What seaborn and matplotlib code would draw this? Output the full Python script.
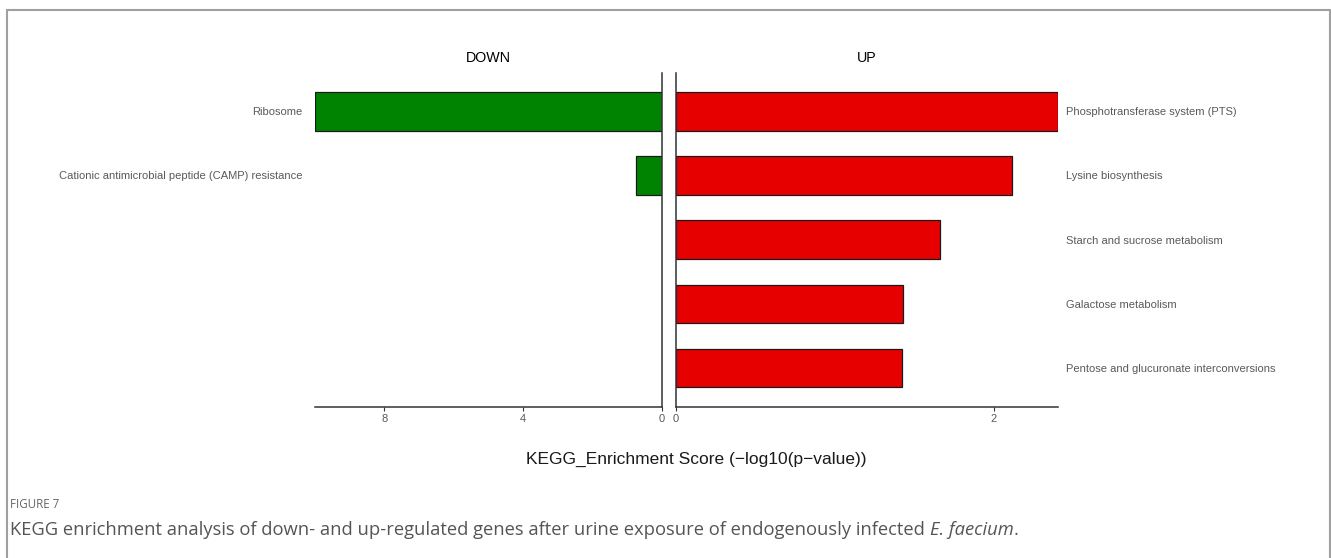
import matplotlib
matplotlib.use("Agg")
import matplotlib.pyplot as plt
from matplotlib.lines import Line2D
import seaborn as sns

# KEGG pathway enrichment, -log10(p-value)
down_terms = ["Ribosome", "Cationic antimicrobial peptide (CAMP) resistance"]
down_scores = [10.0, 0.76]

up_terms = [
    "Phosphotransferase system (PTS)",
    "Lysine biosynthesis",
    "Starch and sucrose metabolism",
    "Galactose metabolism",
    "Pentose and glucuronate interconversions",
]
up_scores = [2.40, 2.11, 1.66, 1.43, 1.42]

down_ticks = [0, 4, 8]
up_ticks = [0, 2]

sns.set_theme(style="white")
plt.rcParams["font.family"] = ["Liberation Sans", "DejaVu Sans"]

W, H = 1331, 558
fig = plt.figure(figsize=(W / 100, H / 100), dpi=100)
fig.patch.set_facecolor("white")


def px_rect(x0, x1, ytop, ybot):
    return [x0 / W, 1 - ybot / H, (x1 - x0) / W, (ybot - ytop) / H]


ax_down = fig.add_axes(px_rect(315, 662, 72.7, 406.7))
ax_up = fig.add_axes(px_rect(675.7, 1057.7, 72.7, 406.7))

GREEN = "#008300"
RED = "#E60000"
LINE = "#333333"
TICKTXT = "#5a5a5a"

sns.barplot(x=down_scores, y=down_terms, orient="h", color=GREEN, saturation=1,
            edgecolor="#1a1a1a", linewidth=0.9, width=0.6, ax=ax_down)
sns.barplot(x=up_scores, y=up_terms, orient="h", color=RED, saturation=1,
            edgecolor="#1a1a1a", linewidth=0.9, width=0.6, ax=ax_up)

n_rows = len(up_terms)
for ax in (ax_down, ax_up):
    ax.set_ylim(n_rows - 1 + 0.6, -0.6)
    ax.set_xlabel("")
    ax.set_ylabel("")
    ax.set_facecolor("white")
    ax.spines["top"].set_visible(False)
    ax.tick_params(axis="x", length=3, width=0.8, color=LINE, labelsize=8,
                   labelcolor=TICKTXT, pad=2, bottom=True)
    ax.tick_params(axis="y", length=0, labelsize=8, labelcolor=TICKTXT)
    for s in ("left", "right", "bottom"):
        ax.spines[s].set_color(LINE)
        ax.spines[s].set_linewidth(1.1)

# Left panel: reversed axis, line at zero on the right
ax_down.set_xlim(max(down_scores), 0)
ax_down.set_xticks(down_ticks)
ax_down.set_xticklabels([str(t) for t in down_ticks])
ax_down.spines["left"].set_visible(False)
ax_down.tick_params(axis="y", pad=9)

# Right panel: labels on the right
ax_up.set_xlim(0, max(up_scores))
ax_up.set_xticks(up_ticks)
ax_up.set_xticklabels([str(t) for t in up_ticks])
ax_up.spines["right"].set_visible(False)
ax_up.yaxis.tick_right()
ax_up.tick_params(axis="y", pad=6, left=False, right=False)

# Panel titles and shared axis label
fig.text(488.5 / W, 1 - 58 / H, "DOWN", ha="center", va="center", fontsize=10.3, color="black")
fig.text(866.7 / W, 1 - 58 / H, "UP", ha="center", va="center", fontsize=10.3, color="black")
fig.text(696 / W, 1 - 459 / H, "KEGG_Enrichment Score (\u2212log10(p\u2212value))",
         ha="center", va="center", fontsize=12.5, color="#1a1a1a")

# Outer frame (open at the bottom)
frame = dict(color="#a0a0a0", linewidth=1.5, transform=fig.transFigure)
fig.add_artist(Line2D([7 / W, 7 / W], [0, 1 - 10 / H], **frame))
fig.add_artist(Line2D([7 / W, 1329.5 / W], [1 - 10 / H, 1 - 10 / H], **frame))
fig.add_artist(Line2D([1329.5 / W, 1329.5 / W], [0, 1 - 10 / H], **frame))

# Caption
cap_font = ["Open Sans", "DejaVu Sans"]
fig.text(10 / W, 1 - 505 / H, "FIGURE 7", ha="left", va="center", fontsize=8.3,
         color="#666666", family=cap_font)
cap = fig.text(10 / W, 1 - 530 / H,
               "KEGG enrichment analysis of down- and up-regulated genes after urine exposure of endogenously infected ",
               ha="left", va="center", fontsize=13.2, color="#555555", family=cap_font)
fig.canvas.draw()
bb = cap.get_window_extent()
fig.text(bb.x1 / W, 1 - 530 / H, "E. faecium", ha="left", va="center", fontsize=13.2,
         color="#555555", family=cap_font, style="italic")
bb2 = fig.texts[-1].get_window_extent()
fig.text(bb2.x1 / W, 1 - 530 / H, ".", ha="left", va="center", fontsize=13.2,
         color="#555555", family=cap_font)

fig.savefig("out.png", dpi=100, facecolor="white")
